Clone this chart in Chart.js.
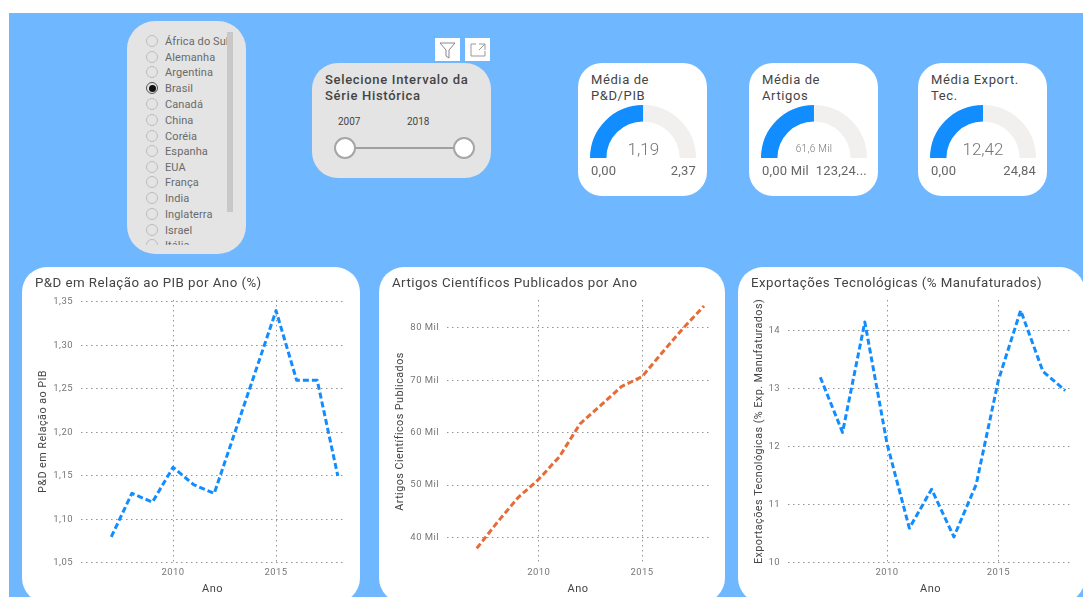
<!DOCTYPE html>
<html lang="pt">
<head>
<meta charset="utf-8">
<script src="https://cdn.jsdelivr.net/npm/chart.js@4/dist/chart.umd.min.js"></script>
<style>
html,body{margin:0;padding:0;background:#fff;width:1083px;height:597px;overflow:hidden;font-family:Roboto,sans-serif}
#bg{position:absolute;left:9px;top:13px;width:1074px;height:584px;background:#6FB7FF}
.card{position:absolute;background:#fff;overflow:hidden}
.gray{background:#E4E4E4}
.abs{position:absolute;white-space:nowrap}
canvas{display:block}
</style>
</head>
<body>
<div id="bg"></div>
<div id="root"></div>
<script>
const years = [2007,2008,2009,2010,2011,2012,2013,2014,2015,2016,2017,2018];
const xTicks = [2010,2015];
const pdValues = [1.08,1.13,1.12,1.16,1.14,1.13,1.20,1.27,1.34,1.26,1.26,1.15];
const pdTicks = [1.05,1.10,1.15,1.20,1.25,1.30,1.35];
const articleValues = [37.9,42.9,47.6,51.1,55.4,61.7,65.2,68.8,70.7,75.4,80,84.2];
const articleTicks = [40,50,60,70,80];
const exportValues = [13.2,12.25,14.15,12.05,10.6,11.27,10.45,11.35,13.15,14.35,13.3,12.97];
const exportTicks = [10,11,12,13,14];
const countries = ['África do Sul','Alemanha','Argentina','Brasil','Canadá','China','Coréia','Espanha','EUA','França','India','Inglaterra','Israel','Itália'];
const selectedCountry = 'Brasil';
const gaugeTitles = [['Média de','P&D/PIB'],['Média de','Artigos'],['Média Export.','Tec.']];
const gaugeValues = [1.19,61.6,12.42];
const gaugeMaxima = [2.37,123.24,24.84];
const gaugeValueLabels = ['1,19','61,6 Mil','12,42'];
const gaugeMinLabels = ['0,00','0,00 Mil','0,00'];
const gaugeMaxLabels = ['2,37','123,24...','24,84'];

const FONT = 'Roboto, sans-serif';
const root = document.getElementById('root');
function el(cls, css, html){
  const d = document.createElement('div');
  d.className = cls; d.style.cssText = css;
  if(html !== undefined) d.innerHTML = html;
  root.appendChild(d); return d;
}
/* country slicer */
el('card gray','left:127px;top:21px;width:119px;height:233px;border-radius:28px');
const list = el('abs','left:140px;top:32px;width:90px;height:213px;overflow:hidden');
const rowY = [9,25,40,56,72,88,103.5,119,135,150,166,182,197.5,213];
countries.forEach((c,i)=>{
  const sel = c === selectedCountry;
  const r = document.createElement('div');
  r.className='abs';
  r.style.cssText=`left:6px;top:${rowY[i]-6}px;width:12px;height:12px;box-sizing:border-box;border-radius:50%;border:1px solid ${sel?'#555':'#bdbdbd'}`;
  if(sel) r.innerHTML='<div style="position:absolute;left:1.5px;top:1.5px;width:7px;height:7px;border-radius:50%;background:#111"></div>';
  list.appendChild(r);
  const t = document.createElement('div');
  t.className='abs';
  t.style.cssText=`left:25px;top:${rowY[i]-6}px;font-size:11px;line-height:14px;color:#6a6a6a;letter-spacing:.1px`;
  t.textContent=c;
  list.appendChild(t);
});
el('abs','left:227px;top:32px;width:6px;height:180px;background:#C8C8C8');
/* range slicer */
el('abs','left:435px;top:38px;width:25px;height:23px;background:#fff',
 '<svg width="25" height="23" viewBox="0 0 25 23"><path d="M5 5H20L14 12V20L11 18V12Z" fill="none" stroke="#888" stroke-width="1"/></svg>');
el('abs','left:465px;top:38px;width:25px;height:23px;background:#fff',
 '<svg width="25" height="23" viewBox="0 0 25 23"><path d="M11 6H6V18H20V13M14 6H20V12M20 6L14 12" fill="none" stroke="#999" stroke-width="1"/></svg>');
el('card gray','left:312px;top:63px;width:179px;height:115px;border-radius:26px');
el('abs','left:325px;top:72px;font:500 13px/16px '+FONT+';color:#444;letter-spacing:.68px','Selecione Intervalo da<br>Série Histórica');
el('abs','left:338px;top:116px;font:400 10px/12px '+FONT+';color:#444','2007');
el('abs','left:407px;top:116px;font:400 10px/12px '+FONT+';color:#444','2018');
el('abs','left:345px;top:147px;width:119px;height:2px;background:#A0A0A0');
[345,464].forEach(x=>el('abs',`left:${x-11}px;top:137px;width:22px;height:22px;box-sizing:border-box;border-radius:50%;background:#fff;border:2px solid #A6A6A6`));

/* gauges */
const gaugeCards = [578,749,918];
const gaugeCenters = [643.3,814,983];
gaugeTitles.forEach((title,i)=>{
  const left = gaugeCards[i], cx = gaugeCenters[i];
  el('card',`left:${left}px;top:63px;width:129px;height:133px;border-radius:24px`);
  el('abs',`left:${left+13}px;top:72px;font:400 13px/16px ${FONT};color:#444;letter-spacing:.6px`,title.join('<br>'));
  const w = el('abs',`left:${cx-53}px;top:105px;width:106px;height:53px`);
  const cv = document.createElement('canvas'); w.appendChild(cv);
  new Chart(cv,{type:'doughnut',
    data:{labels:['Valor','Restante'],datasets:[{data:[gaugeValues[i],gaugeMaxima[i]-gaugeValues[i]],backgroundColor:['#118DFF','#F1F0EF'],borderWidth:0}]},
    options:{responsive:true,maintainAspectRatio:false,animation:false,rotation:-90,circumference:180,cutout:'69%',
      layout:{padding:0},plugins:{legend:{display:false},tooltip:{enabled:false}}}});
  const small = i===1;
  el('abs',`left:${cx-40}px;width:80px;text-align:center;top:${small?142:140}px;font:300 ${small?10:17}px/${small?13:18}px ${FONT};color:#777;letter-spacing:${small?.3:0}px`,gaugeValueLabels[i]);
  el('abs',`left:${left+13}px;top:163px;font:400 13px/16px ${FONT};color:#666;letter-spacing:.2px`,gaugeMinLabels[i]);
  el('abs',`right:${1083-(left+118)}px;top:163px;font:400 13px/16px ${FONT};color:#666;letter-spacing:.2px`,gaugeMaxLabels[i]);
});

/* line charts */
const spacing = {id:'spacing',beforeDraw(c){c.ctx.letterSpacing='0.45px'}};
function lineChart(o){
  el('card',`left:${o.left}px;top:267px;width:${o.cardW}px;height:336px;border-radius:25px`);
  const w = el('abs',`left:${o.left}px;top:267px;width:${Math.min(o.cardW,1083-o.left)}px;height:330px`);
  const cv = document.createElement('canvas'); w.appendChild(cv);
  const grid = {color:'#949494',lineWidth:1,drawTicks:false};
  const border = {display:false,dash:[1.5,3.5]};
  new Chart(cv,{type:'line',plugins:[spacing],
    data:{labels:years,datasets:[{data:years.map((y,i)=>({x:y,y:o.values[i]})),borderColor:o.color,borderWidth:3,borderDash:[6,3],borderJoinStyle:'round',pointRadius:0,tension:0,fill:false}]},
    options:{responsive:true,maintainAspectRatio:false,animation:false,
      layout:{padding:{left:13,right:o.padRight,top:0,bottom:0}},
      plugins:{legend:{display:false},tooltip:{enabled:false},
        title:{display:true,text:o.title,align:'start',color:'#444',font:{family:FONT,size:13.3,weight:'400'},padding:{top:8.5,bottom:8.5}}},
      scales:{
        x:{type:'linear',min:o.xMin,max:o.xMax,grid,border,
          afterBuildTicks:s=>{s.ticks=xTicks.map(v=>({value:v}))},
          afterFit:s=>{s.height=34},
          ticks:{padding:4,color:'#777',font:{family:FONT,size:9.5},maxRotation:0,callback:v=>String(v)},
          title:{display:true,text:'Ano',color:'#444',font:{family:FONT,size:11},padding:{top:0,bottom:1}}},
        y:{type:'linear',min:o.yMin,max:o.yMax,grid,border,
          afterBuildTicks:s=>{s.ticks=o.ticks.map(v=>({value:v}))},
          afterFit:s=>{s.width=o.yWidth},
          ticks:{padding:8,color:'#777',font:{family:FONT,size:9.5},callback:o.fmt},
          title:{display:true,text:o.yTitle,color:'#444',font:{family:FONT,size:10.8},padding:{top:1.5,bottom:0}}}
      }}});
}
lineChart({left:22,cardW:338,padRight:16,yWidth:46,title:'P&D em Relação ao PIB por Ano (%)',yTitle:'P&D em Relação ao PIB',
  values:pdValues,ticks:pdTicks,color:'#118DFF',xMin:2005.53,xMax:2018.3,yMin:1.05,yMax:1.3523,fmt:v=>v.toFixed(2).replace('.',',')});
lineChart({left:379,cardW:346,padRight:16,yWidth:55,title:'Artigos Científicos Publicados por Ano',yTitle:'Artigos Científicos Publicados',
  values:articleValues,ticks:articleTicks,color:'#E66C37',xMin:2005.56,xMax:2018.24,yMin:35.1,yMax:85.35,fmt:v=>v+' Mil'});
lineChart({left:738,cardW:347,padRight:10,yWidth:37,title:'Exportações Tecnológicas (% Manufaturados)',yTitle:'Exportações Tecnológicas (% Exp. Manufaturados)',
  values:exportValues,ticks:exportTicks,color:'#118DFF',xMin:2005.55,xMax:2018.35,yMin:10,yMax:14.53,fmt:v=>String(v)});
</script>
</body>
</html>
